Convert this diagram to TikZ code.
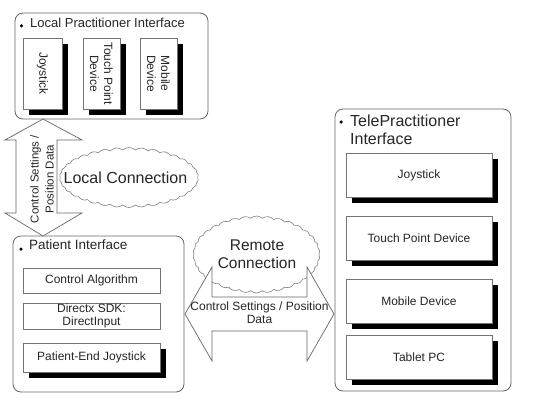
\documentclass[tikz,border=0pt]{standalone}
\usepackage{fontspec}
\setmainfont{Liberation Sans}
\usetikzlibrary{shapes.symbols,shadows}
\begin{document}
\begin{tikzpicture}[x=1pt,y=-1pt,
  bigbox/.style={draw=black!60, line width=0.8pt, rounded corners=8pt, fill=white, inner sep=0pt},
  devbox/.style={draw=black!55, line width=0.6pt, fill=white, inner sep=0pt},
  shadowed/.style={drop shadow={shadow xshift=6pt, shadow yshift=-6pt, fill=black, opacity=1}},
  cloudy/.style={cloud, cloud puffs=34, cloud puff arc=85, cloud ignores aspect, draw=black!50, line width=0.6pt, fill=white, inner sep=0pt},
  blockarrow/.style={draw=black!60, line width=0.7pt, fill=white, line join=miter},
  lbl/.style={text=black!85, inner sep=0pt},
  devtext/.style={lbl, align=center, font=\fontsize{12}{14}\selectfont},
  bul/.style={circle, fill=black, inner sep=0pt, minimum size=3.5pt}
]
\useasboundingbox (0,0) rectangle (534,409);

% ---------- Local Practitioner Interface ----------
\node[bigbox, minimum width=193pt, minimum height=106pt] (lpi) at (111.5,66) {};
\node[bul] (lpib) at (21.5,26) {};
\node[lbl, anchor=west, font=\fontsize{13}{15}\selectfont] (lpit) at (30,23) {Local Practitioner Interface};
\node[devbox, shadowed, minimum width=39pt, minimum height=71pt] (lj) at (42.5,73.5) {};
\node[devtext, rotate=-90] at (lj.center) {Joystick};
\node[devbox, shadowed, minimum width=37pt, minimum height=71pt] (lt) at (101.5,73.5) {};
\node[devtext, rotate=-90] at (lt.center) {Touch Point\\Device};
\node[devbox, shadowed, minimum width=37pt, minimum height=71pt] (lm) at (158.5,73.5) {};
\node[devtext, rotate=-90] at (lm.center) {Mobile\\Device};

% ---------- Patient Interface ----------
\node[bigbox, minimum width=171pt, minimum height=156pt] (pi) at (98.5,314) {};
\node[bul] (pib) at (21,249) {};
\node[lbl, anchor=west, font=\fontsize{13.5}{15}\selectfont] (pit) at (29,245) {Patient Interface};
\node[devbox, minimum width=137pt, minimum height=25pt] (pa) at (91.5,280.5) {};
\node[devtext] at (pa.center) {Control Algorithm};
\node[devbox, minimum width=137pt, minimum height=26pt] (pd) at (91.5,316) {};
\node[devtext, font=\fontsize{12}{13}\selectfont] at (pd.center) {Directx SDK:\\DirectInput};
\node[devbox, shadowed, minimum width=137pt, minimum height=29pt] (pj) at (91.5,357.5) {};
\node[devtext] at (pj.center) {Patient-End Joystick};

% ---------- TelePractitioner Interface ----------
\node[bigbox, minimum width=176pt, minimum height=282pt] (tpi) at (423,250) {};
\node[bul] (tpib) at (341,122) {};
\node[lbl, anchor=north west, align=left, font=\fontsize{16}{18}\selectfont] (tpit) at (350,115) {TelePractitioner\\Interface};
\node[devbox, shadowed, minimum width=146pt, minimum height=44pt] (tj) at (419,175) {};
\node[devtext] at (tj.center) {Joystick};
\node[devbox, shadowed, minimum width=146pt, minimum height=44pt] (tt) at (419,238) {};
\node[devtext] at (tt.center) {Touch Point Device};
\node[devbox, shadowed, minimum width=146pt, minimum height=44pt] (tm) at (419,301) {};
\node[devtext] at (tm.center) {Mobile Device};
\node[devbox, shadowed, minimum width=146pt, minimum height=44pt] (tp) at (419,357) {};
\node[devtext] at (tp.center) {Tablet PC};

% ---------- Local connection ----------
\draw[blockarrow] (43,119) -- (82,140) -- (57,140) -- (57,213) -- (82,213) -- (43,236)
  -- (5,213) -- (16,213) -- (16,140) -- (5,140) -- cycle;
\node[lbl, rotate=90, align=center, font=\fontsize{11.5}{15}\selectfont] (vtxt) at (42,179) {Control Settings /\\Position Data};
\node[cloudy, minimum width=139pt, minimum height=60pt] (lc) at (129,177.5) {};
\node[lbl, font=\fontsize{16}{18}\selectfont] at (125.5,178) {Local Connection};

% ---------- Remote connection ----------
\node[cloudy, minimum width=127pt, minimum height=77pt] (rc) at (256.5,254.5) {};
\node[lbl, align=center, font=\fontsize{15.5}{18}\selectfont] at (257,254) {Remote\\Connection};
\draw[blockarrow] (185,314) -- (212,267) -- (212,297) -- (307,297) -- (307,267) -- (334,314)
  -- (307,361) -- (307,331) -- (212,331) -- (212,361) -- cycle;
\node[lbl, align=center, font=\fontsize{12}{12.6}\selectfont] (htxt) at (259.5,313) {Control Settings / Position\\Data};
\end{tikzpicture}
\end{document}
